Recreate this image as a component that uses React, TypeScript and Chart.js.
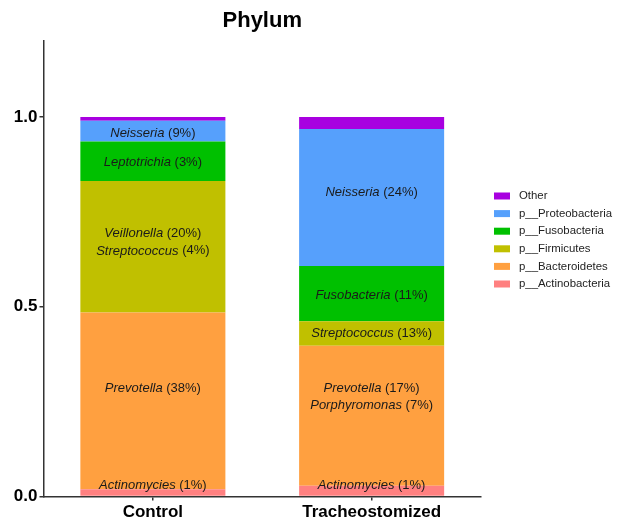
import React, { useEffect, useRef } from "react";
import { Chart, registerables } from "chart.js";

Chart.register(...registerables);

// Relative abundance per group, stacked bottom to top
const categories = ["Control", "Tracheostomized"];
const phylumNames = [
  "p__Actinobacteria",
  "p__Bacteroidetes",
  "p__Firmicutes",
  "p__Fusobacteria",
  "p__Proteobacteria",
  "Other",
];
const actinobacteria = [0.019, 0.028];
const bacteroidetes = [0.466, 0.369];
const firmicutes = [0.346, 0.065];
const fusobacteria = [0.104, 0.145];
const proteobacteria = [0.055, 0.361];
const other = [0.01, 0.032];
const phylumColors = ["#FF8080", "#FFA040", "#C0C000", "#00C000", "#56A0FC", "#A800E0"];

// Dominant genus annotations: group index, anchor height, genus, share
const genusGroup = [0, 0, 0, 0, 0, 0, 1, 1, 1, 1, 1, 1];
const genusAnchor = [0.957, 0.879, 0.694, 0.647, 0.286, 0.028, 0.801, 0.531, 0.43, 0.285, 0.241, 0.028];
const genusNames = [
  "Neisseria",
  "Leptotrichia",
  "Veillonella",
  "Streptococcus",
  "Prevotella",
  "Actinomycies",
  "Neisseria",
  "Fusobacteria",
  "Streptococcus",
  "Prevotella",
  "Porphyromonas",
  "Actinomycies",
];
const genusShares = ["9%", "3%", "20%", "4%", "38%", "1%", "24%", "11%", "13%", "17%", "7%", "1%"];

const yTickValues = [0, 0.5, 1.0];

const FONT = "'Liberation Sans', Arial, sans-serif";

const annotationPlugin = {
  id: "genusLabels",
  afterDatasetsDraw(chart: any) {
    const { ctx, scales } = chart;
    ctx.save();
    ctx.textBaseline = "middle";
    ctx.fillStyle = "#1a1a1a";
    for (let i = 0; i < genusNames.length; i++) {
      const x = scales.x.getPixelForValue(genusGroup[i]);
      const y = scales.y.getPixelForValue(genusAnchor[i]);
      const italic = `italic 13px ${FONT}`;
      const plain = `13px ${FONT}`;
      const name = genusNames[i];
      const share = ` (${genusShares[i]})`;
      ctx.font = italic;
      const w1 = ctx.measureText(name).width;
      ctx.font = plain;
      const w2 = ctx.measureText(share).width;
      const start = x - (w1 + w2) / 2;
      ctx.textAlign = "left";
      ctx.font = italic;
      ctx.fillText(name, start, y);
      ctx.font = plain;
      ctx.fillText(share, start + w1, y);
    }
    ctx.restore();
  },
};

const titlePlugin = {
  id: "centeredTitle",
  afterDraw(chart: any) {
    const { ctx, scales } = chart;
    const cx = (scales.x.left + scales.x.right) / 2;
    ctx.save();
    ctx.font = `bold 22px ${FONT}`;
    ctx.fillStyle = "#000";
    ctx.textAlign = "center";
    ctx.textBaseline = "middle";
    ctx.fillText("Phylum", cx, 21);
    ctx.restore();
  },
};

const legendPlugin = {
  id: "sideLegend",
  afterDraw(chart: any) {
    const { ctx } = chart;
    const sets = chart.data.datasets.slice().reverse();
    ctx.save();
    ctx.font = `11.4px ${FONT}`;
    ctx.textBaseline = "middle";
    ctx.textAlign = "left";
    sets.forEach((ds: any, i: number) => {
      const y = 196 + i * 17.6;
      ctx.fillStyle = ds.backgroundColor;
      ctx.fillRect(494, y - 3.5, 16, 7);
      ctx.fillStyle = "#222";
      ctx.fillText(ds.label, 519, y);
    });
    ctx.restore();
  },
};

export default function App() {
  const canvasRef = useRef<HTMLCanvasElement | null>(null);

  useEffect(() => {
    if (!canvasRef.current) return;
    const series = [actinobacteria, bacteroidetes, firmicutes, fusobacteria, proteobacteria, other];
    const chart = new Chart(canvasRef.current, {
      type: "bar",
      data: {
        labels: categories,
        datasets: series.map((values, i) => ({
          label: phylumNames[i],
          data: values,
          backgroundColor: phylumColors[i],
          borderWidth: 0,
          barPercentage: 1,
          categoryPercentage: 0.663,
        })),
      },
      options: {
        animation: false,
        responsive: false,
        maintainAspectRatio: false,
        layout: { padding: { top: 41, right: 142, bottom: 0, left: 0 } },
        plugins: {
          legend: { display: false },
          title: { display: false },
          tooltip: { enabled: false },
        },
        scales: {
          x: {
            stacked: true,
            grid: {
              offset: false,
              drawOnChartArea: false,
              drawTicks: true,
              tickLength: 4,
              color: "#333",
              lineWidth: 1.5,
            },
            border: { display: true, color: "#333", width: 1.5 },
            ticks: { color: "#000", font: { family: FONT, size: 17, weight: "bold" }, padding: 2 },
            afterFit: (s: any) => {
              s.height = 23.5;
            },
          },
          y: {
            stacked: true,
            min: 0,
            max: 1.2,
            grid: { drawOnChartArea: false, drawTicks: true, tickLength: 4, color: "#333", lineWidth: 1.5 },
            border: { display: true, color: "#333", width: 1.5 },
            ticks: {
              stepSize: 0.5,
              color: "#000",
              padding: 2,
              font: { family: FONT, size: 17, weight: "bold" },
              callback: (v: any) => Number(v).toFixed(1),
            },
            afterBuildTicks: (s: any) => {
              s.ticks = yTickValues.map((v) => ({ value: v }));
            },
            afterFit: (s: any) => {
              s.width = 43.5;
            },
          },
        },
      },
      plugins: [annotationPlugin, titlePlugin, legendPlugin],
    });
    return () => chart.destroy();
  }, []);

  return (
    <div style={{ position: "fixed", left: 0, top: 0, width: 623, height: 520, background: "#fff" }}>
      <canvas ref={canvasRef} width={623} height={520} />
    </div>
  );
}
